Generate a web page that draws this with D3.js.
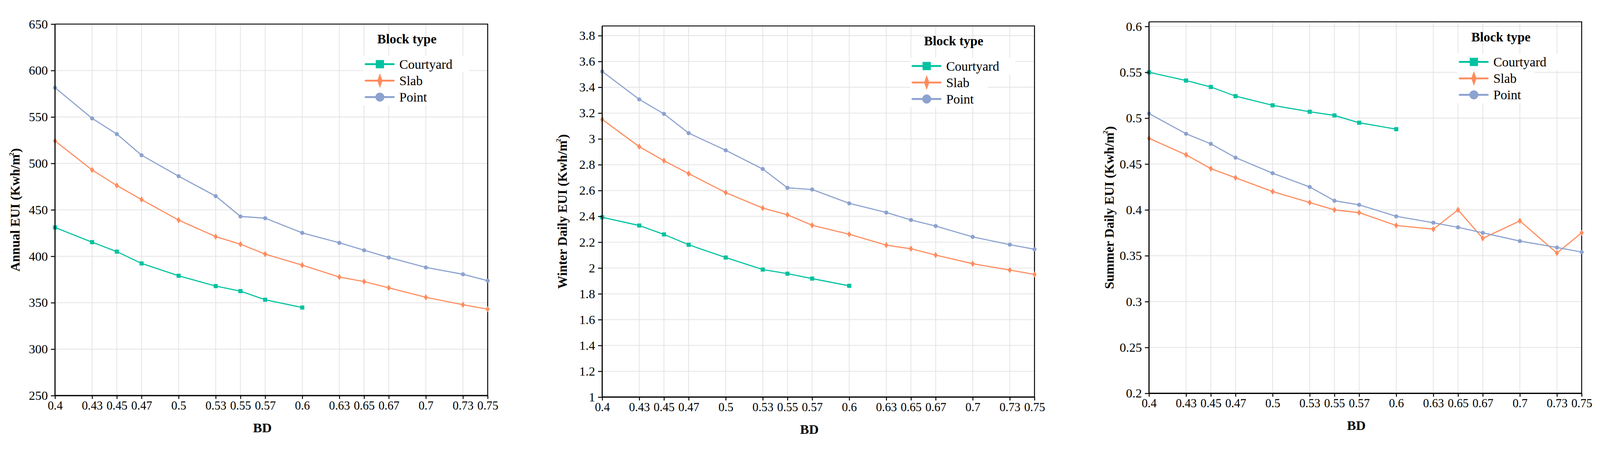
<!DOCTYPE html>
<html>
<head>
<meta charset="utf-8">
<script src="https://cdn.jsdelivr.net/npm/d3@7"></script>
<style>
  html, body { margin: 0; padding: 0; background: #fff; overflow: hidden; }
  #chart { width: 100vw; height: 100vh; }
  svg { display: block; }
  svg text { font-family: "Liberation Serif", "Times New Roman", serif; }
</style>
</head>
<body>
<div id="chart"></div>
<script>
// BD values (x axis, shared by all three panels)
const bd = [0.4, 0.43, 0.45, 0.47, 0.5, 0.53, 0.55, 0.57, 0.6, 0.63, 0.65, 0.67, 0.7, 0.73, 0.75];
const blockTypes = ['Courtyard', 'Slab', 'Point'];

// Annual EUI
const annualCourtyard = [431, 415.2, 405, 392.3, 379, 367.9, 362.5, 353.2, 344.8];
const annualSlab = [524.2, 492.9, 476.2, 461, 438.9, 421.2, 413, 402.3, 390.4, 377.6, 372.8, 366, 355.8, 347.8, 343];
const annualPoint = [581.5, 548.5, 531.6, 508.8, 486.2, 464.8, 442.9, 441, 425.2, 414.5, 406.5, 398.7, 388, 380.6, 373.7];
const annualTicks = [250, 300, 350, 400, 450, 500, 550, 600, 650];

// Winter daily EUI
const winterCourtyard = [2.393, 2.329, 2.26, 2.18, 2.081, 1.988, 1.956, 1.918, 1.862];
const winterSlab = [3.151, 2.94, 2.831, 2.731, 2.584, 2.464, 2.412, 2.331, 2.261, 2.177, 2.149, 2.1, 2.033, 1.984, 1.95];
const winterPoint = [3.523, 3.306, 3.194, 3.045, 2.912, 2.767, 2.621, 2.608, 2.501, 2.43, 2.372, 2.325, 2.241, 2.181, 2.145];
const winterTicks = [1, 1.2, 1.4, 1.6, 1.8, 2, 2.2, 2.4, 2.6, 2.8, 3, 3.2, 3.4, 3.6, 3.8];

// Summer daily EUI
const summerCourtyard = [0.55, 0.541, 0.534, 0.524, 0.514, 0.507, 0.503, 0.495, 0.488];
const summerSlab = [0.478, 0.46, 0.445, 0.435, 0.42, 0.408, 0.4, 0.397, 0.383, 0.379, 0.4, 0.369, 0.388, 0.353, 0.375];
const summerPoint = [0.505, 0.483, 0.472, 0.457, 0.44, 0.425, 0.41, 0.4055, 0.393, 0.386, 0.381, 0.375, 0.366, 0.359, 0.354];
const summerTicks = [0.2, 0.25, 0.3, 0.35, 0.4, 0.45, 0.5, 0.55, 0.6];

const colors = {Courtyard: '#00c2a0', Slab: '#ff8c5e', Point: '#8ca2cf'};

const panels = [
  {title: 'Annual EUI (Kwh/m', domain: [250, 650], ticks: annualTicks,
   series: [annualCourtyard, annualSlab, annualPoint],
   box: {left: 147, right: 1303, top: 39, bottom: 1031}},
  {title: 'Winter Daily EUI (Kwh/m', domain: [1, 3.875], ticks: winterTicks,
   series: [winterCourtyard, winterSlab, winterPoint],
   box: {left: 1609, right: 2764, top: 44, bottom: 1035}},
  {title: 'Summer Daily EUI (Kwh/m', domain: [0.2, 0.605], ticks: summerTicks,
   series: [summerCourtyard, summerSlab, summerPoint],
   box: {left: 3070, right: 4226, top: 33, bottom: 1025}}
];

const fmt = d => String(+d.toFixed(3));

// marker path: square, tall diamond, circle
function marker(type, s) {
  if (type === 'Courtyard') return `M${-s.sq/2},${-s.sq/2}h${s.sq}v${s.sq}h${-s.sq}Z`;
  if (type === 'Slab') return `M0,${-s.dh/2}L${s.dw/2},0L0,${s.dh/2}L${-s.dw/2},0Z`;
  const r = s.r;
  return `M${r},0A${r},${r} 0 1,1 ${-r},0A${r},${r} 0 1,1 ${r},0Z`;
}
const plotSize = {sq: 11, dw: 11, dh: 17, r: 5.5};
const legendSize = {sq: 22, dw: 14, dh: 40, r: 12};

// fixed drawing size, scaled to whatever the window is
const svg = d3.select('#chart').append('svg')
  .attr('viewBox', '0 0 4275 1159')
  .attr('width', '100%')
  .attr('height', '100%');

panels.forEach(p => {
  const b = p.box;
  const x = d3.scaleLinear().domain([0.4, 0.75]).range([b.left, b.right]);
  const y = d3.scaleLinear().domain(p.domain).range([b.bottom, b.top]);
  const g = svg.append('g');

  // gridlines
  g.append('g').selectAll('line').data(bd).enter().append('line')
    .attr('x1', d => x(d)).attr('x2', d => x(d))
    .attr('y1', b.top).attr('y2', b.bottom)
    .attr('stroke', '#e3e3e3').attr('stroke-width', 2);
  g.append('g').selectAll('line').data(p.ticks).enter().append('line')
    .attr('x1', b.left).attr('x2', b.right)
    .attr('y1', d => y(d)).attr('y2', d => y(d))
    .attr('stroke', '#e3e3e3').attr('stroke-width', 2);

  // top & right border
  g.append('path')
    .attr('d', `M${b.left},${b.top}H${b.right}V${b.bottom}`)
    .attr('fill', 'none').attr('stroke', '#000').attr('stroke-width', 2.5);

  // legend backgrounds (cover grid)
  const leg = g.append('g');
  const rowY = [b.top + 107, b.top + 151, b.top + 195];
  const bgRight = [b.right - 50, b.right - 125, b.right - 125];
  blockTypes.forEach((t, i) => {
    leg.append('rect')
      .attr('x', b.right - 332).attr('y', rowY[i] - 22)
      .attr('width', bgRight[i] - (b.right - 332)).attr('height', 44)
      .attr('fill', '#fff');
  });

  // lines + markers
  blockTypes.forEach((t, i) => {
    const pts = p.series[i].map((v, j) => [bd[j], v]);
    g.append('path')
      .datum(pts)
      .attr('fill', 'none')
      .attr('stroke', colors[t])
      .attr('stroke-width', 3)
      .attr('d', d3.line().x(d => x(d[0])).y(d => y(d[1])));
    g.append('g').selectAll('path').data(pts).enter().append('path')
      .attr('transform', d => `translate(${x(d[0])},${y(d[1])})`)
      .attr('d', marker(t, plotSize))
      .attr('fill', colors[t]);
  });

  // axes
  const yAxis = d3.axisLeft(y).tickValues(p.ticks).tickFormat(fmt).tickSize(11).tickPadding(8);
  const yg = g.append('g').attr('transform', `translate(${b.left},0)`).call(yAxis);
  yg.select('.domain').attr('d', `M0,${b.top}V${b.bottom}`).attr('stroke-width', 3);
  yg.selectAll('.tick line').attr('stroke-width', 2.5);
  yg.selectAll('text').attr('font-size', 34).attr('fill', '#000');

  const xAxis = d3.axisBottom(x).tickValues(bd).tickFormat(fmt).tickSize(9).tickPadding(6);
  const xg = g.append('g').attr('transform', `translate(0,${b.bottom})`).call(xAxis);
  xg.select('.domain').attr('d', `M${b.left},0H${b.right}`).attr('stroke-width', 3.5);
  xg.selectAll('.tick line').attr('stroke-width', 2.5);
  xg.selectAll('text').attr('font-size', 32).attr('fill', '#000');

  // axis titles
  g.append('text')
    .attr('x', (b.left + b.right) / 2 - 24)
    .attr('y', b.bottom + 98)
    .attr('text-anchor', 'middle')
    .attr('font-size', 36).attr('font-weight', 'bold')
    .text('BD');

  const yt = g.append('text')
    .attr('transform', `translate(${b.left - 107},${(b.top + b.bottom) / 2}) rotate(-90)`)
    .attr('text-anchor', 'middle')
    .attr('dy', '0.35em')
    .attr('font-size', 35).attr('font-weight', 'bold');
  yt.append('tspan').text(p.title);
  yt.append('tspan').attr('font-size', 18).attr('dy', '-0.9em').attr('dx', '-4').text('2');
  yt.append('tspan').attr('dy', '0.5em').text(')');

  // legend
  leg.append('text')
    .attr('x', b.right - 295).attr('y', b.top + 52)
    .attr('font-size', 35).attr('font-weight', 'bold')
    .text('Block type');
  blockTypes.forEach((t, i) => {
    leg.append('line')
      .attr('x1', b.right - 326).attr('x2', b.right - 251)
      .attr('y1', rowY[i]).attr('y2', rowY[i])
      .attr('stroke', colors[t]).attr('stroke-width', 5)
      .attr('stroke-linecap', 'round');
    leg.append('path')
      .attr('transform', `translate(${b.right - 288},${rowY[i]})`)
      .attr('d', marker(t, legendSize))
      .attr('fill', colors[t]);
    leg.append('text')
      .attr('x', b.right - 236).attr('y', rowY[i])
      .attr('dy', '0.35em')
      .attr('font-size', 35)
      .text(t);
  });
});
</script>
</body>
</html>
